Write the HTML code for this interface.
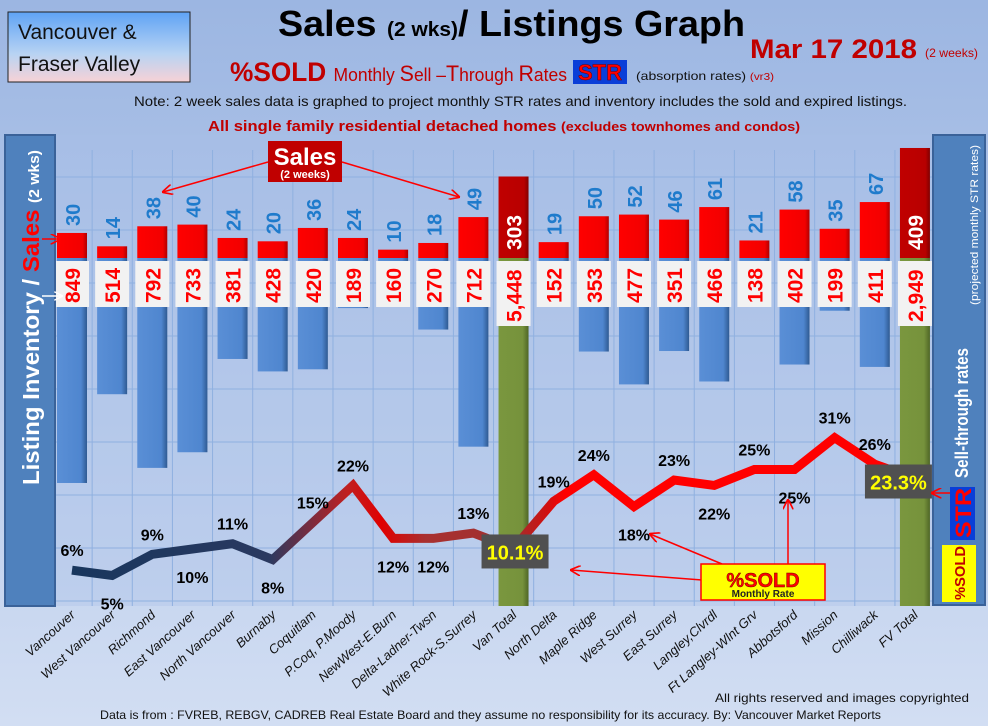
<!DOCTYPE html>
<html><head><meta charset="utf-8"><style>
html,body{margin:0;padding:0;width:988px;height:726px;overflow:hidden;background:#b4c8ea}
svg{display:block;font-family:"Liberation Sans",sans-serif}
</style></head><body>
<svg id="chart" width="988" height="726" viewBox="0 0 988 726" xmlns="http://www.w3.org/2000/svg">
<defs>
<linearGradient id="bg" x1="0" y1="0" x2="0" y2="1"><stop offset="0" stop-color="#9cb6e2"/><stop offset="1" stop-color="#d2def3"/></linearGradient>
<linearGradient id="hdr" x1="0" y1="0" x2="0" y2="1"><stop offset="0" stop-color="#5fa3f5"/><stop offset="0.6" stop-color="#b8d3f3"/><stop offset="1" stop-color="#f7d2d6"/></linearGradient>
<linearGradient id="blueBar" x1="0" y1="0" x2="1" y2="0"><stop offset="0" stop-color="#5a8fd6"/><stop offset="0.8" stop-color="#4f86cf"/><stop offset="1" stop-color="#2f5a92"/></linearGradient>
<linearGradient id="redBar" x1="0" y1="0" x2="1" y2="0"><stop offset="0" stop-color="#ff0000"/><stop offset="0.85" stop-color="#f20000"/><stop offset="1" stop-color="#b00000"/></linearGradient>
<linearGradient id="darkRed" x1="0" y1="0" x2="1" y2="0"><stop offset="0" stop-color="#c00000"/><stop offset="0.85" stop-color="#b80000"/><stop offset="1" stop-color="#800000"/></linearGradient>
<linearGradient id="green" x1="0" y1="0" x2="1" y2="0"><stop offset="0" stop-color="#7a973e"/><stop offset="0.8" stop-color="#76923c"/><stop offset="1" stop-color="#4f6626"/></linearGradient>
<linearGradient id="lineGrad" gradientUnits="userSpaceOnUse" x1="60" y1="0" x2="930" y2="0">
<stop offset="0" stop-color="#17365d"/><stop offset="0.24" stop-color="#2a3960"/><stop offset="0.33" stop-color="#c02020"/><stop offset="0.37" stop-color="#e00000"/><stop offset="0.42" stop-color="#a83030"/><stop offset="0.52" stop-color="#a03030"/><stop offset="0.56" stop-color="#d01010"/><stop offset="0.58" stop-color="#ff0000"/><stop offset="1" stop-color="#ff0000"/>
</linearGradient>
<marker id="arr" viewBox="0 0 10 10" refX="9" refY="5" markerWidth="7" markerHeight="7" orient="auto"><path d="M0,0 L10,5 L0,10" fill="none" stroke="#ff0000" stroke-width="1.6"/></marker>
<marker id="arrW" viewBox="0 0 10 10" refX="9" refY="5" markerWidth="6" markerHeight="6" orient="auto"><path d="M0,0 L10,5 L0,10" fill="none" stroke="#fff" stroke-width="1.6"/></marker>
</defs>
<rect x="0" y="0" width="988" height="726" fill="url(#bg)"/>
<g id="grid"></g>
<g id="bars"></g>
<g id="line"></g>
<g id="labels"></g>
<g id="cats"></g>

<!-- header -->
<rect x="8" y="12" width="182" height="70" fill="url(#hdr)" stroke="#222" stroke-width="1"/>
<text x="18" y="39" font-size="21" fill="#111">Vancouver &amp;</text>
<text x="18" y="71" font-size="21" fill="#111">Fraser Valley</text>
<text x="278" y="36" font-size="36" font-weight="bold" fill="#000" textLength="467" lengthAdjust="spacingAndGlyphs">Sales <tspan font-size="20">(2 wks)</tspan>/ Listings Graph</text>
<text x="750" y="58" font-size="27" font-weight="bold" fill="#c00000" textLength="167" lengthAdjust="spacingAndGlyphs">Mar 17 2018</text>
<text x="925" y="57" font-size="12" fill="#c00000" textLength="53" lengthAdjust="spacingAndGlyphs">(2 weeks)</text>
<text x="230" y="81" font-size="18" fill="#c00000" textLength="337" lengthAdjust="spacingAndGlyphs"><tspan font-size="27" font-weight="bold">%SOLD </tspan>Monthly <tspan font-size="22">S</tspan>ell –<tspan font-size="22">T</tspan>hrough <tspan font-size="22">R</tspan>ates</text>
<rect x="573" y="60" width="54" height="24" fill="#0a3ed8"/>
<text x="600" y="80" font-size="22" font-weight="bold" fill="#ff0000" text-anchor="middle" stroke="#600" stroke-width="0.5">STR</text>
<text x="636" y="80" font-size="12" fill="#111" textLength="138" lengthAdjust="spacingAndGlyphs">(absorption rates) <tspan fill="#c00000" font-size="10">(vr3)</tspan></text>
<text x="134" y="106" font-size="14" fill="#111" textLength="773" lengthAdjust="spacingAndGlyphs">Note: 2 week sales data is graphed to project monthly STR rates and inventory includes the sold and expired listings.</text>
<text x="208" y="131" font-size="15" font-weight="bold" fill="#c00000" textLength="592" lengthAdjust="spacingAndGlyphs">All single family residential detached homes <tspan font-size="13">(excludes townhomes and condos)</tspan></text>

<!-- left panel -->
<rect x="5" y="135" width="50" height="471" fill="#4f81bd" stroke="#3a6299" stroke-width="2"/>
<text transform="translate(39,485) rotate(-90)" font-size="23" font-weight="bold" fill="#fff" textLength="335" lengthAdjust="spacingAndGlyphs">Listing Inventory / <tspan fill="#ff0000">Sales</tspan> <tspan font-size="15">(2  wks)</tspan></text>
<line x1="42" y1="239" x2="60" y2="239" stroke="#ff0000" stroke-width="1.5" marker-end="url(#arr)"/>
<line x1="42" y1="296" x2="62" y2="296" stroke="#fff" stroke-width="1.5" marker-end="url(#arrW)"/>

<!-- right panel -->
<rect x="933" y="135" width="52" height="470" fill="#4f81bd" stroke="#3a6299" stroke-width="2"/>
<text transform="translate(968,478) rotate(-90)" font-size="18" font-weight="bold" fill="#fff" textLength="130" lengthAdjust="spacingAndGlyphs">Sell-through rates</text>
<text transform="translate(978,305) rotate(-90)" font-size="11" fill="#fff" textLength="160" lengthAdjust="spacingAndGlyphs">(projected monthly STR rates)</text>
<rect x="950" y="487" width="25" height="53" fill="#0a3ed8"/>
<text transform="translate(971,538) rotate(-90)" font-size="22" font-weight="bold" fill="#ff0000" textLength="50" lengthAdjust="spacingAndGlyphs">STR</text>
<rect x="942" y="545" width="34" height="57" fill="#ffff00"/>
<text transform="translate(965,600) rotate(-90)" font-size="15" font-weight="bold" fill="#c00000" textLength="54" lengthAdjust="spacingAndGlyphs">%SOLD</text>

<!-- Sales callout -->
<rect x="268" y="141" width="74" height="41" fill="#c00000"/>
<text x="305" y="165" font-size="24" font-weight="bold" fill="#fff" text-anchor="middle">Sales</text>
<text x="305" y="178" font-size="11" font-weight="bold" fill="#fff" text-anchor="middle">(2 weeks)</text>
<line x1="268" y1="162" x2="163" y2="192" stroke="#ff0000" stroke-width="1.5" marker-end="url(#arr)"/>
<line x1="342" y1="162" x2="459" y2="197" stroke="#ff0000" stroke-width="1.5" marker-end="url(#arr)"/>

<!-- %SOLD callout -->
<line x1="702" y1="580" x2="571" y2="570" stroke="#ff0000" stroke-width="1.5" marker-end="url(#arr)"/>
<line x1="722" y1="564" x2="650" y2="534" stroke="#ff0000" stroke-width="1.5" marker-end="url(#arr)"/>
<line x1="788" y1="564" x2="788" y2="500" stroke="#ff0000" stroke-width="1.5" marker-end="url(#arr)"/>
<line x1="950" y1="493" x2="932" y2="493" stroke="#ff0000" stroke-width="1.5" marker-end="url(#arr)"/>
<rect x="701" y="564" width="124" height="36" fill="#ffff00" stroke="#ff0000" stroke-width="1.5"/>
<text x="763" y="587" font-size="20" font-weight="bold" fill="#ff0000" text-anchor="middle" stroke="#600" stroke-width="0.4">%SOLD</text>
<text x="763" y="597" font-size="10" font-weight="bold" fill="#222" text-anchor="middle">Monthly Rate</text>

<!-- footer -->
<text x="715" y="702" font-size="12" fill="#111" textLength="254" lengthAdjust="spacingAndGlyphs">All rights reserved and  images copyrighted</text>
<text x="100" y="719" font-size="12" fill="#111" textLength="781" lengthAdjust="spacingAndGlyphs">Data is from : FVREB, REBGV, CADREB Real Estate Board and they assume no responsibility for its accuracy. By: Vancouver Market Reports</text>

<script>
var categories = ["Vancouver","West Vancouver","Richmond","East Vancouver","North Vancouver","Burnaby","Coquitlam","P.Coq, P.Moody","NewWest-E.Burn","Delta-Ladner-Twsn","White Rock-S.Surrey","Van Total","North Delta","Maple Ridge","West Surrey","East Surrey","Langley,Clvrdl","Ft Langley-Wlnt Grv","Abbotsford","Mission","Chilliwack","FV Total"];
var sales = [30,14,38,40,24,20,36,24,10,18,49,303,19,50,52,46,61,21,58,35,67,409];
var inventory = [849,514,792,733,381,428,420,189,160,270,712,5448,152,353,477,351,466,138,402,199,411,2949];
var isTotal = [0,0,0,0,0,0,0,0,0,0,0,1,0,0,0,0,0,0,0,0,0,1];
var strPct = [6,5,9,10,11,8,15,22,12,12,13,10.1,19,24,18,23,22,25,25,31,26,23.3];
var strLabelText = ["6%","5%","9%","10%","11%","8%","15%","22%","12%","12%","13%","10.1%","19%","24%","18%","23%","22%","25%","25%","31%","26%","23.3%"];
var strLabelBelow = [0,1,0,1,0,1,0,0,1,1,0,0,0,0,1,0,1,0,1,0,0,0];

var NS = "http://www.w3.org/2000/svg";
var X0 = 72, STEP = 40.14, BASE = 258, PLOT_BOTTOM = 606;
function xScale(i){ return X0 + STEP * i; }
function ySales(v){ return BASE - v * 0.835; }
function ySalesTotal(v){ return BASE - v * 0.269; }
function yInv(v){ return BASE + v * 0.265; }
function yStr(p){ return 602 - p * 5.3; }
function mk(tag, attrs, parent){ var e = document.createElementNS(NS, tag); for (var k in attrs) e.setAttribute(k, attrs[k]); parent.appendChild(e); return e; }

var grid = document.getElementById('grid');
mk('rect', {x:55, y:135, width:878, height:471, fill:'#a9c0e8', opacity:'0.35'}, grid);
for (var gx = 0; gx <= categories.length; gx++) {
  var vl = mk('line', {x1:xScale(gx)-20, x2:xScale(gx)-20, y1:150, y2:PLOT_BOTTOM, stroke:'#8fb0e0', 'stroke-width':1}, grid);
  
  
}
for (var gy = 177; gy <= 606; gy += 53) {
  var hl = mk('line', {x1:55, x2:933, y1:gy, y2:gy, stroke:'#8fb0e0', 'stroke-width':1}, grid);
  
  
}

var bars = document.getElementById('bars');
var labels = document.getElementById('labels');
var line = document.getElementById('line');
var cats = document.getElementById('cats');
var BW = 30;
for (var i = 0; i < categories.length; i++) {
  var cx = xScale(i);
  if (isTotal[i]) {
    var g = mk('rect', {x:cx-15, y:BASE, width:BW, height:PLOT_BOTTOM-BASE, fill:'url(#green)'}, bars);
    
    
    var ts = ySalesTotal(sales[i]);
    var tr = mk('rect', {x:cx-15, y:ts, width:BW, height:BASE-ts, fill:'url(#darkRed)'}, bars);
    
    
    var tt = mk('text', {x:0, y:0, transform:'translate('+(cx+8)+',250) rotate(-90)', 'font-size':21, 'font-weight':'bold', fill:'#fff'}, labels);
    tt.textContent = sales[i];
    
    
    var bx = mk('rect', {x:cx-17, y:261, width:34, height:65, fill:'#f2f2f2'}, labels);
    
    
    var it = mk('text', {x:0, y:0, transform:'translate('+(cx+8)+',322) rotate(-90)', 'font-size':21, 'font-weight':'bold', fill:'#ff0000'}, labels);
    it.textContent = inventory[i].toLocaleString('en-US');
    
    
  } else {
    var yb = yInv(inventory[i]);
    var b = mk('rect', {x:cx-15, y:BASE, width:BW, height:yb-BASE, fill:'url(#blueBar)'}, bars);
    
    
    var ys = ySales(sales[i]);
    var r = mk('rect', {x:cx-15, y:ys, width:BW, height:BASE-ys, fill:'url(#redBar)'}, bars);
    
    
    var st = mk('text', {x:0, y:0, transform:'translate('+(cx+8)+','+(ys-7)+') rotate(-90)', 'font-size':20, 'font-weight':'bold', fill:'#1f7bcc'}, labels);
    st.textContent = sales[i];
    
    
    var bx2 = mk('rect', {x:cx-17, y:261, width:34, height:46, fill:'#f2f2f2'}, labels);
    
    
    var it2 = mk('text', {x:0, y:0, transform:'translate('+(cx+8)+',303) rotate(-90)', 'font-size':21, 'font-weight':'bold', fill:'#ff0000'}, labels);
    it2.textContent = inventory[i];
    
    
  }
  var c = mk('text', {x:0, y:0, transform:'translate('+(cx+4)+',616) rotate(-42)', 'font-size':13, 'font-style':'italic', fill:'#111', 'text-anchor':'end'}, cats);
  c.textContent = categories[i];
  
  
}

var d = '';
for (var j = 0; j < strPct.length; j++) d += (j ? 'L' : 'M') + xScale(j) + ',' + yStr(strPct[j]);
var pth = mk('path', {d:d, fill:'none', stroke:'url(#lineGrad)', 'stroke-width':9, 'stroke-linejoin':'miter'}, line);



for (var k = 0; k < strPct.length; k++) {
  var lx = xScale(k), ly = yStr(strPct[k]);
  if (isTotal[k]) {
    var w = 67, bxl = lx - (k === strPct.length-1 ? 50 : 32);
    var box = mk('rect', {x:bxl, y:ly-14, width:w, height:34, fill:'#505050'}, labels);
    
    
    var bt = mk('text', {x:bxl + w/2, y:ly+11, 'font-size':20, 'font-weight':'bold', fill:'#ffff00', 'text-anchor':'middle'}, labels);
    bt.textContent = strLabelText[k];
    
    
  } else {
    var ty = strLabelBelow[k] ? ly + 34 : ly - 14;
    var pt = mk('text', {x:lx, y:ty, 'font-size':16, 'font-weight':'bold', fill:'#000', 'text-anchor':'middle'}, labels);
    pt.textContent = strLabelText[k];
    
    
  }
}
</script>
</svg>
</body></html>
